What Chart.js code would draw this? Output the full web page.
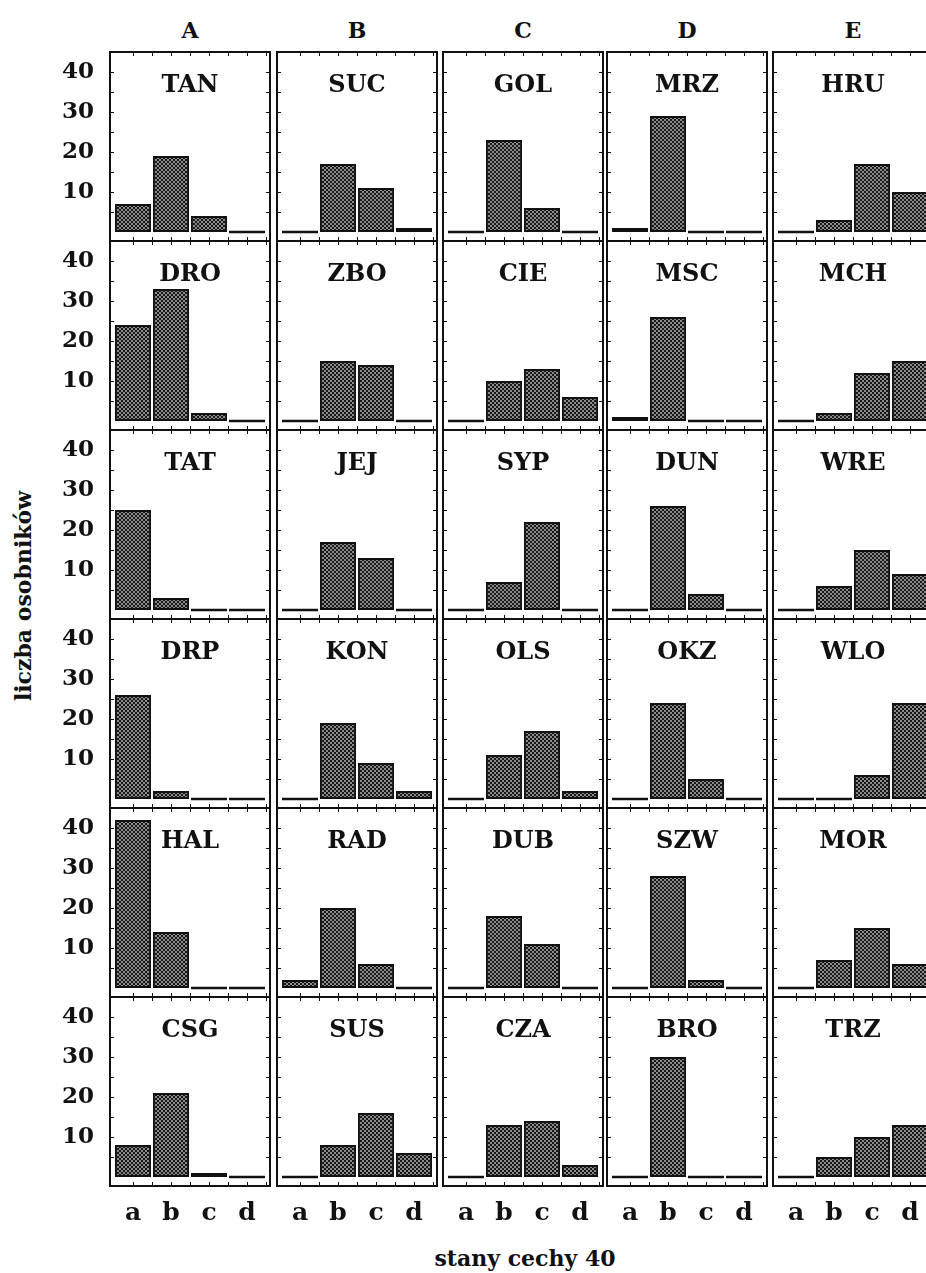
<!DOCTYPE html>
<html>
<head>
<meta charset="utf-8">
<script src="https://cdn.jsdelivr.net/npm/chart.js@4.4.0/dist/chart.umd.min.js"></script>
<style>
  body{margin:0;background:#fff;}
  #wrap{position:relative;width:926px;height:1273px;overflow:hidden;font-family:"DejaVu Serif",serif;color:#111;}
  #wrap canvas{position:absolute;}
  .hdr{position:absolute;top:19px;width:160px;text-align:center;font-weight:bold;font-size:22px;line-height:22px;}
  #xTitle{position:absolute;left:525px;top:1258px;transform:translate(-50%,-50%);font-weight:bold;font-size:22px;white-space:nowrap;}
  #yTitle{position:absolute;left:23px;top:596px;transform:translate(-50%,-50%) rotate(-90deg);font-weight:bold;font-size:22px;white-space:nowrap;}
</style>
</head>
<body>
<div id="wrap">
  <div id="xTitle">stany cechy 40</div>
  <div id="yTitle">liczba osobników</div>
</div>
<script>
const $ = sel => document.querySelector(sel);

/* ============ DATA ============== */
const columns = ["A","B","C","D","E"];
const states = ["a","b","c","d"];
const yTicks = [10,20,30,40];

const names1 = ["TAN","SUC","GOL","MRZ","HRU"];
const counts1 = [[7,19,4,0],[0,17,11,1],[0,23,6,0],[1,29,0,0],[0,3,17,10]];
const names2 = ["DRO","ZBO","CIE","MSC","MCH"];
const counts2 = [[24,33,2,0],[0,15,14,0],[0,10,13,6],[1,26,0,0],[0,2,12,15]];
const names3 = ["TAT","JEJ","SYP","DUN","WRE"];
const counts3 = [[25,3,0,0],[0,17,13,0],[0,7,22,0],[0,26,4,0],[0,6,15,9]];
const names4 = ["DRP","KON","OLS","OKZ","WLO"];
const counts4 = [[26,2,0,0],[0,19,9,2],[0,11,17,2],[0,24,5,0],[0,0,6,24]];
const names5 = ["HAL","RAD","DUB","SZW","MOR"];
const counts5 = [[42,14,0,0],[2,20,6,0],[0,18,11,0],[0,28,2,0],[0,7,15,6]];
const names6 = ["CSG","SUS","CZA","BRO","TRZ"];
const counts6 = [[8,21,1,0],[0,8,16,6],[0,13,14,3],[0,30,0,0],[0,5,10,13]];

const rowNames = [names1,names2,names3,names4,names5,names6];
const rowCounts = [counts1,counts2,counts3,counts4,counts5,counts6];

/* ============ LAYOUT ============== */
const colX = [110,277,443,607,773];   // left edge of each panel frame
const TOP = 52, ROW_H = 189, X_AXIS_H = 44, Y_LEFT = 36;
const FONT = '"DejaVu Serif", serif';

// crosshatched fill like the printed bars
function hatch(){
  const t = document.createElement("canvas");
  t.width = t.height = 4;
  const g = t.getContext("2d");
  g.fillStyle = "#8a8a8a"; g.fillRect(0,0,4,4);
  g.fillStyle = "#181818";
  for(let i=0;i<4;i++){ g.fillRect(i,i,1,1); g.fillRect(i,3-i,1,1); }
  return g.createPattern(t,"repeat");
}
const fill = hatch();

/* ============ PANEL FRAME + NAME ============== */
const panelFrame = {
  id:"panelFrame",
  afterDraw(chart, args, opts){
    const {ctx, chartArea:a, scales:{x,y}} = chart;
    const L = a.left-4, R = a.right+4;
    ctx.save();
    ctx.strokeStyle = "#111";
    ctx.lineWidth = 2;
    ctx.strokeRect(L, a.top, R-L, a.bottom-a.top);
    ctx.lineWidth = 1;
    ctx.beginPath();
    for(let v=5; v<45; v+=5){
      const py = Math.round(y.getPixelForValue(v))+0.5;
      ctx.moveTo(L,py); ctx.lineTo(L+4,py);
      ctx.moveTo(R,py); ctx.lineTo(R-4,py);
    }
    for(let i=0; i<states.length; i+=0.5){
      const px = Math.round(x.getPixelForValue(i))+0.5;
      ctx.moveTo(px,a.top); ctx.lineTo(px,a.top+4);
      ctx.moveTo(px,a.bottom); ctx.lineTo(px,a.bottom-4);
    }
    ctx.stroke();
    ctx.fillStyle = "#111";
    ctx.font = "bold 24px " + FONT;
    ctx.textAlign = "center";
    ctx.textBaseline = "middle";
    ctx.fillText(opts.name, (L+R)/2, a.top+34);
    ctx.restore();
  }
};

function makePanel(r, c){
  const isLeft = c === 0, isBottom = r === rowCounts.length-1;
  const areaL = colX[c] + 4;
  const top = TOP + r*ROW_H;
  const canL = isLeft ? Y_LEFT : colX[c] - 2;
  const canT = top - 2;
  const cv = document.createElement("canvas");
  cv.width = colX[c] + 162 - canL;
  cv.height = ROW_H + 4 + (isBottom ? X_AXIS_H - 2 : 0);
  cv.style.left = canL + "px";
  cv.style.top = canT + "px";
  $("#wrap").appendChild(cv);

  new Chart(cv, {
    type:"bar",
    data:{
      labels:states,
      datasets:[{
        data:rowCounts[r][c],
        backgroundColor:fill,
        borderColor:"#111",
        borderWidth:2,
        borderSkipped:false,
        barPercentage:0.95,
        categoryPercentage:1,
        minBarLength:3
      }]
    },
    options:{
      responsive:false,
      animation:false,
      events:[],
      layout:{padding:{left:isLeft?0:6, right:6, top:2, bottom:isBottom?0:2}},
      plugins:{
        legend:{display:false},
        tooltip:{enabled:false},
        panelFrame:{name:rowNames[r][c]}
      },
      scales:{
        x:{
          display:isBottom,
          grid:{display:false, drawTicks:false},
          border:{display:false},
          ticks:{color:"#111", padding:12, maxRotation:0, font:{family:FONT, size:25, weight:"bold"}},
          afterFit:s => { if(isBottom){ s.height = X_AXIS_H; s.paddingLeft = 0; s.paddingRight = 0; } }
        },
        y:{
          display:isLeft,
          min:-2.25, max:45,
          grid:{display:false, drawTicks:false},
          border:{display:false},
          afterBuildTicks:s => { s.ticks = yTicks.map(v => ({value:v})); },
          afterFit:s => { if(isLeft){ s.width = areaL - canL; s.paddingTop = 0; s.paddingBottom = 0; } },
          ticks:{color:"#111", padding:20, font:{family:FONT, size:23, weight:"bold"}}
        }
      }
    },
    plugins:[panelFrame]
  });
}

/* ============ HEADERS ============== */
columns.forEach((h,i) => {
  const d = document.createElement("div");
  d.className = "hdr";
  d.style.left = colX[i] + "px";
  d.textContent = h;
  $("#wrap").appendChild(d);
});

rowCounts.forEach((row, r) => row.forEach((_, c) => makePanel(r, c)));
</script>
</body>
</html>
